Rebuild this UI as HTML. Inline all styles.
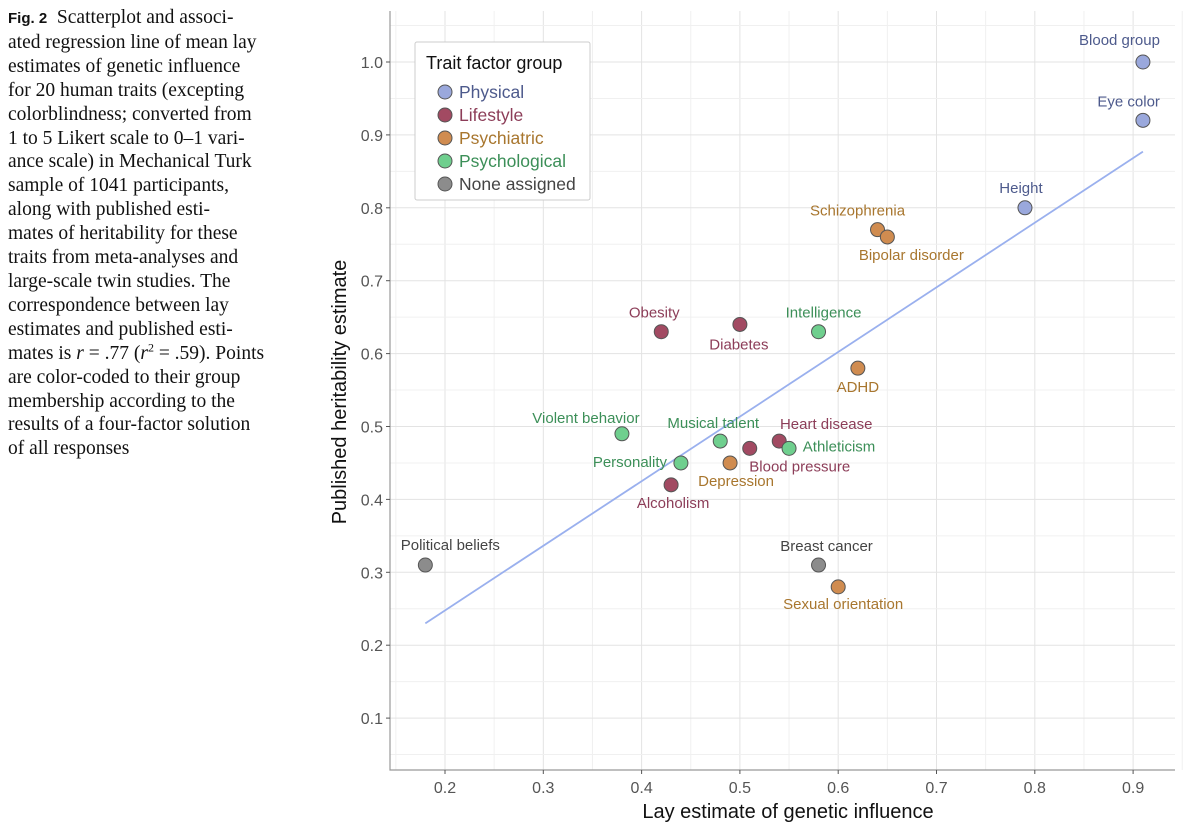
<!DOCTYPE html>
<html><head><meta charset="utf-8"><style>
body{margin:0;width:1189px;height:837px;background:#fff;overflow:hidden;position:relative}
#cap{position:absolute;left:8px;top:6px;font-family:"Liberation Serif",serif;font-size:19.5px;line-height:23.9px;color:#111;white-space:nowrap;letter-spacing:0px}
#cap b{font-family:"Liberation Sans",sans-serif;font-size:15px}
svg{position:absolute;left:0;top:0}
text{font-family:"Liberation Sans",sans-serif}
</style></head><body>
<div id="cap"><b>Fig. 2</b>&nbsp; Scatterplot and associ-<br>ated regression line of mean lay<br>estimates of genetic influence<br>for 20 human traits (excepting<br>colorblindness; converted from<br>1 to 5 Likert scale to 0–1 vari-<br>ance scale) in Mechanical Turk<br>sample of 1041 participants,<br>along with published esti-<br>mates of heritability for these<br>traits from meta-analyses and<br>large-scale twin studies. The<br>correspondence between lay<br>estimates and published esti-<br>mates is <i>r</i> = .77 (<i>r</i><sup style="font-size:12px;line-height:0">2</sup> = .59). Points<br>are color-coded to their group<br>membership according to the<br>results of a four-factor solution<br>of all responses</div>
<svg id="chart" width="1189" height="837"></svg>
<script>
const names=["Blood group","Eye color","Height","Schizophrenia","Bipolar disorder","Obesity","Diabetes","Intelligence","ADHD","Violent behavior","Musical talent","Heart disease","Personality","Athleticism","Blood pressure","Depression","Alcoholism","Political beliefs","Breast cancer","Sexual orientation"];
const layX=[0.91,0.91,0.79,0.64,0.65,0.42,0.50,0.58,0.62,0.38,0.48,0.54,0.44,0.55,0.51,0.49,0.43,0.18,0.58,0.60];
const herY=[1.00,0.92,0.80,0.77,0.76,0.63,0.64,0.63,0.58,0.49,0.48,0.48,0.45,0.47,0.47,0.45,0.42,0.31,0.31,0.28];
const groups=[0,0,0,2,2,1,1,3,2,3,3,1,3,3,1,2,1,4,4,2];
const groupNames=["Physical","Lifestyle","Psychiatric","Psychological","None assigned"];
const fills=["#9aa8dc","#a24a62","#d08c50","#6fcf8e","#8c8c8c"];
const labCol=["#4d5a8c","#8c3d58","#a8762e","#3c8f58","#444"];
const labOff=[[17,-17,"end"],[17,-14,"end"],[-4,-15,"middle"],[-20,-14,"middle"],[24,23,"middle"],[-7,-14,"middle"],[-1,25,"middle"],[5,-14,"middle"],[0,24,"middle"],[-36,-11,"middle"],[-7,-13,"middle"],[47,-12,"middle"],[-51,4,"middle"],[50,3,"middle"],[50,23,"middle"],[6,23,"middle"],[2,23,"middle"],[25,-15,"middle"],[8,-14,"middle"],[5,22,"middle"]];
const xTicks=[0.2,0.3,0.4,0.5,0.6,0.7,0.8,0.9];
const yTicks=[0.1,0.2,0.3,0.4,0.5,0.6,0.7,0.8,0.9,1.0];
const fit=[[0.18,0.23],[0.91,0.877]];
const NS="http://www.w3.org/2000/svg",svg=document.getElementById('chart');
const L=390,R=1175,T=11,B=770;
const X=v=>445+(v-0.2)*983,Y=v=>62+(1.0-v)*729;
function mk(t,a,p){const e=document.createElementNS(NS,t);for(const k in a)e.setAttribute(k,a[k]);(p||svg).appendChild(e);return e;}
for(let v=0.15;v<0.96;v+=0.05){const x=X(v);const g=mk('line',{x1:x,x2:x,y1:T,y2:B,stroke:Math.abs(v*10-Math.round(v*10))<0.01?'#e3e3e3':'#f0f0f0','stroke-width':1});}
for(let v=0.05;v<1.07;v+=0.05){const y=Y(v);const g=mk('line',{x1:L,x2:R,y1:y,y2:y,stroke:Math.abs(v*10-Math.round(v*10))<0.01?'#e3e3e3':'#f0f0f0','stroke-width':1});}
const ax=mk('path',{d:`M${L} ${T}V${B}H${R}`,fill:'none',stroke:'#999','stroke-width':1.2});

xTicks.forEach(v=>{mk('line',{x1:X(v),x2:X(v),y1:B,y2:B+4,stroke:'#555'});const t=mk('text',{x:X(v),y:B+23,'text-anchor':'middle','font-size':16,fill:'#555'});t.textContent=v.toFixed(1);});
yTicks.forEach(v=>{mk('line',{x1:L-4,x2:L,y1:Y(v),y2:Y(v),stroke:'#555'});const t=mk('text',{x:L-7,y:Y(v)+6,'text-anchor':'end','font-size':16,fill:'#555'});t.textContent=v.toFixed(1);});
let t=mk('text',{x:788,y:818,'text-anchor':'middle','font-size':20,fill:'#111'});t.textContent='Lay estimate of genetic influence';
t=mk('text',{x:346,y:392,'text-anchor':'middle','font-size':20,fill:'#111',transform:'rotate(-90 346 392)'});t.textContent='Published heritability estimate';
const rl=mk('line',{x1:X(fit[0][0]),y1:Y(fit[0][1]),x2:X(fit[1][0]),y2:Y(fit[1][1]),stroke:'#9ab0ee','stroke-width':1.8});

names.forEach((n,i)=>{const cx=X(layX[i]),cy=Y(herY[i]);const c=mk('circle',{cx,cy,r:7,fill:fills[groups[i]],stroke:'#555','stroke-width':1});
const o=labOff[i];const l=mk('text',{x:cx+o[0],y:cy+o[1],'text-anchor':o[2],'font-size':15,fill:labCol[groups[i]]});l.textContent=n;});
const lg=mk('g',{});
mk('rect',{x:415,y:42,width:175,height:158,fill:'#fff',stroke:'#ccc','stroke-width':1,rx:2},lg);
t=mk('text',{x:426,y:69,'font-size':18,fill:'#111'},lg);t.textContent='Trait factor group';
groupNames.forEach((g,i)=>{const y=92+i*23;const c=mk('circle',{cx:445,cy:y,r:7,fill:fills[i],stroke:'#555'},lg);const tx=mk('text',{x:459,y:y+6,'font-size':17.5,fill:labCol[i]},lg);tx.textContent=g;});
</script>
</body></html>
